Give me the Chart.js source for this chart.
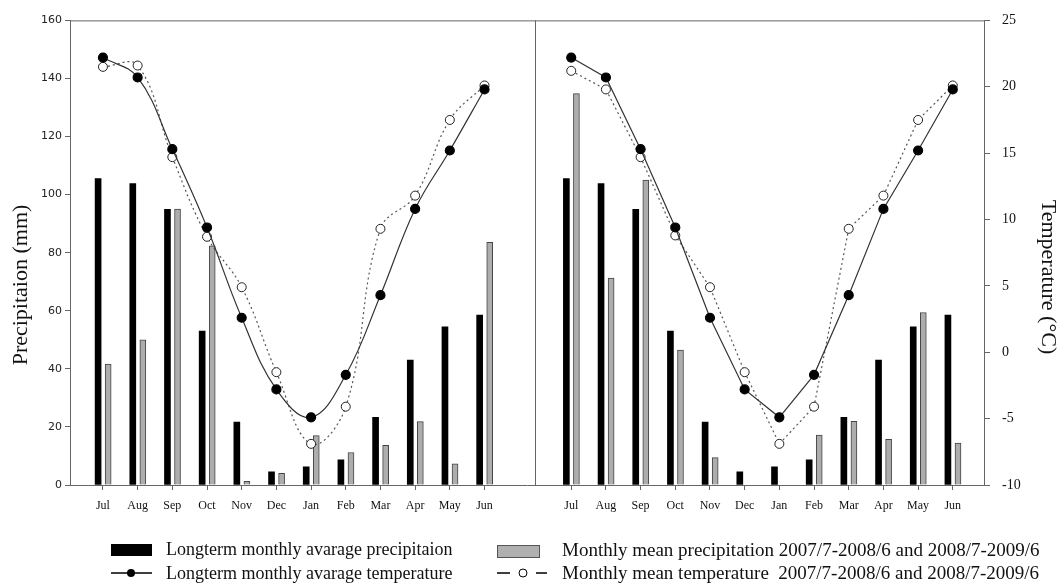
<!DOCTYPE html>
<html>
<head>
<meta charset="utf-8">
<script src="https://cdn.jsdelivr.net/npm/chart.js@4.4.0/dist/chart.umd.min.js"></script>
<style>
  html, body { margin: 0; padding: 0; background: #fff; }
  #wrap { width: 1062px; height: 585px; }
</style>
</head>
<body>
<div id="wrap"><canvas id="chart" width="1062" height="585"></canvas></div>
<script>
// Data
const months = ['Jul', 'Aug', 'Sep', 'Oct', 'Nov', 'Dec', 'Jan', 'Feb', 'Mar', 'Apr', 'May', 'Jun'];
const precipLongterm = [105.5, 103.8, 94.9, 53.0, 21.7, 4.5, 6.3, 8.7, 23.3, 43.0, 54.5, 58.5];
const precip0708 = [41.6, 50.0, 95.0, 82.4, 1.3, 4.0, 17.0, 11.2, 13.7, 21.8, 7.3, 83.6];
const precip0809 = [134.8, 71.3, 105.0, 46.5, 9.4, 0, 0, 17.2, 21.9, 15.7, 59.4, 14.4];
const tempLongterm = [22.2, 20.7, 15.3, 9.4, 2.6, -2.8, -4.9, -1.7, 4.3, 10.8, 15.2, 19.8];
const temp0708 = [21.5, 21.6, 14.7, 8.7, 4.9, -1.5, -6.9, -4.1, 9.3, 11.8, 17.5, 20.1];
const temp0809 = [21.2, 19.8, 14.7, 8.8, 4.9, -1.5, -6.9, -4.1, 9.3, 11.8, 17.5, 20.1];
const precipTicks = [0, 20, 40, 60, 80, 100, 120, 140, 160];
const tempTicks = [-10, -5, 0, 5, 10, 15, 20, 25];

// two panels side by side on one linear x axis
const leftPos = months.map(function(m, i) { return i + 1; });
const rightPos = months.map(function(m, i) { return i + 14.5; });
const dividerX = 13.47;

function points(pos, vals, shift) {
    return pos.map(function(x, i) { return { x: x + shift, y: vals[i] }; });
}

function monthLabel(value) {
    let i = leftPos.indexOf(value);
    if (i >= 0) return months[i];
    i = rightPos.indexOf(value);
    return i >= 0 ? months[i] : '';
}

const serif = '"Liberation Serif", "Times New Roman", serif';

// frame, divider, axis titles and legend
const extras = {
    id: 'extras',
    afterDraw: function(chart) {
        const ctx = chart.ctx;
        const area = chart.chartArea;
        const dx = Math.round(chart.scales.x.getPixelForValue(dividerX)) + 0.5;
        ctx.save();
        ctx.strokeStyle = '#666';
        ctx.lineWidth = 1;
        ctx.beginPath();
        ctx.moveTo(area.left, area.top + 0.5);
        ctx.lineTo(area.right, area.top + 0.5);
        ctx.moveTo(dx, area.top);
        ctx.lineTo(dx, area.bottom);
        ctx.stroke();

        // axis titles
        ctx.fillStyle = '#111';
        ctx.font = '22px ' + serif;
        ctx.textAlign = 'center';
        ctx.textBaseline = 'middle';
        ctx.save();
        ctx.translate(21, 285);
        ctx.rotate(-Math.PI / 2);
        ctx.fillText('Precipitaion (mm)', 0, 0);
        ctx.restore();
        ctx.save();
        ctx.translate(1048, 277);
        ctx.rotate(Math.PI / 2);
        ctx.fillText('Temperature (°C)', 0, 0);
        ctx.restore();

        // legend
        const row1 = 550, row2 = 573;
        ctx.fillStyle = '#000';
        ctx.fillRect(111, row1 - 6, 41, 12);
        ctx.fillStyle = '#b0b0b0';
        ctx.fillRect(497, row1 - 5, 42, 12);
        ctx.strokeStyle = '#555';
        ctx.strokeRect(497.5, row1 - 4.5, 42, 12);

        ctx.strokeStyle = '#000';
        ctx.lineWidth = 1.5;
        ctx.beginPath();
        ctx.moveTo(111, row2);
        ctx.lineTo(152, row2);
        ctx.moveTo(497, row2);
        ctx.lineTo(510, row2);
        ctx.moveTo(536, row2);
        ctx.lineTo(547, row2);
        ctx.stroke();
        ctx.fillStyle = '#000';
        ctx.beginPath();
        ctx.arc(131, row2, 4, 0, Math.PI * 2);
        ctx.fill();
        ctx.fillStyle = '#fff';
        ctx.lineWidth = 1;
        ctx.beginPath();
        ctx.arc(523, row2, 4, 0, Math.PI * 2);
        ctx.fill();
        ctx.stroke();

        ctx.fillStyle = '#111';
        ctx.textAlign = 'left';
        ctx.font = '18px ' + serif;
        ctx.fillText('Longterm monthly avarage precipitaion', 166, row1);
        ctx.fillText('Longterm monthly avarage temperature', 166, row2 + 1);
        ctx.font = '19px ' + serif;
        ctx.fillText('Monthly mean precipitation 2007/7-2008/6 and 2008/7-2009/6', 562, row1 + 1);
        ctx.fillText('Monthly mean temperature  2007/7-2008/6 and 2008/7-2009/6', 562, row2 + 1);
        ctx.restore();
    }
};

const solidLine = {
    type: 'line',
    yAxisID: 'yT',
    borderColor: '#333',
    borderWidth: 1.2,
    pointRadius: 4.5,
    pointBackgroundColor: '#000',
    pointBorderColor: '#000',
    fill: false,
    order: 0
};
const dottedLine = {
    type: 'line',
    yAxisID: 'yT',
    borderColor: '#555',
    borderWidth: 1.2,
    borderDash: [2, 3],
    pointRadius: 4.5,
    pointBackgroundColor: '#fff',
    pointBorderColor: '#222',
    pointBorderWidth: 1,
    fill: false,
    order: 0
};

new Chart(document.getElementById('chart'), {
    type: 'bar',
    data: {
        datasets: [
            Object.assign({}, solidLine, { data: points(leftPos, tempLongterm, 0), tension: 0.4 }),
            Object.assign({}, dottedLine, { data: points(leftPos, temp0708, 0), tension: 0.4 }),
            Object.assign({}, solidLine, { data: points(rightPos, tempLongterm, 0), tension: 0 }),
            Object.assign({}, dottedLine, { data: points(rightPos, temp0809, 0), tension: 0 }),
            {
                type: 'bar',
                yAxisID: 'yP',
                data: points(leftPos, precipLongterm, -0.14).concat(points(rightPos, precipLongterm, -0.14)),
                backgroundColor: '#000',
                borderWidth: 0,
                barThickness: 6,
                grouped: false,
                order: 1
            },
            {
                type: 'bar',
                yAxisID: 'yP',
                data: points(leftPos, precip0708, 0.15).concat(points(rightPos, precip0809, 0.15)),
                backgroundColor: '#adadad',
                borderColor: '#444',
                borderWidth: 1,
                borderSkipped: 'bottom',
                barThickness: 6,
                grouped: false,
                order: 1
            }
        ]
    },
    options: {
        responsive: false,
        animation: false,
        layout: { padding: { top: 20, bottom: 70, left: 0, right: 0 } },
        plugins: {
            legend: { display: false },
            tooltip: { enabled: false }
        },
        scales: {
            x: {
                type: 'linear',
                min: 0.05,
                max: 26.4,
                offset: false,
                afterBuildTicks: function(scale) {
                    scale.ticks = leftPos.concat(rightPos).map(function(v) { return { value: v }; });
                },
                afterFit: function(scale) { scale.height = 30; },
                grid: { offset: false, drawOnChartArea: false, tickLength: 5, color: '#666' },
                border: { color: '#666' },
                ticks: {
                    autoSkip: false,
                    maxRotation: 0,
                    padding: 9,
                    color: '#111',
                    font: { family: serif, size: 12 },
                    callback: monthLabel
                }
            },
            yP: {
                type: 'linear',
                position: 'left',
                min: 0,
                max: 160,
                afterBuildTicks: function(scale) {
                    scale.ticks = precipTicks.map(function(v) { return { value: v }; });
                },
                afterFit: function(scale) { scale.width = 70; },
                grid: { drawOnChartArea: false, tickLength: 5, color: '#666' },
                border: { color: '#666' },
                ticks: {
                    padding: 3,
                    color: '#222',
                    font: { family: '"DejaVu Sans", Verdana, sans-serif', size: 11 }
                }
            },
            yT: {
                type: 'linear',
                position: 'right',
                min: -10,
                max: 25,
                afterBuildTicks: function(scale) {
                    scale.ticks = tempTicks.map(function(v) { return { value: v }; });
                },
                afterFit: function(scale) { scale.width = 78; },
                grid: { drawOnChartArea: false, tickLength: 6, color: '#666' },
                border: { color: '#666' },
                ticks: {
                    padding: 12,
                    color: '#111',
                    font: { family: serif, size: 14 }
                }
            }
        }
    },
    plugins: [extras]
});
</script>
</body>
</html>
